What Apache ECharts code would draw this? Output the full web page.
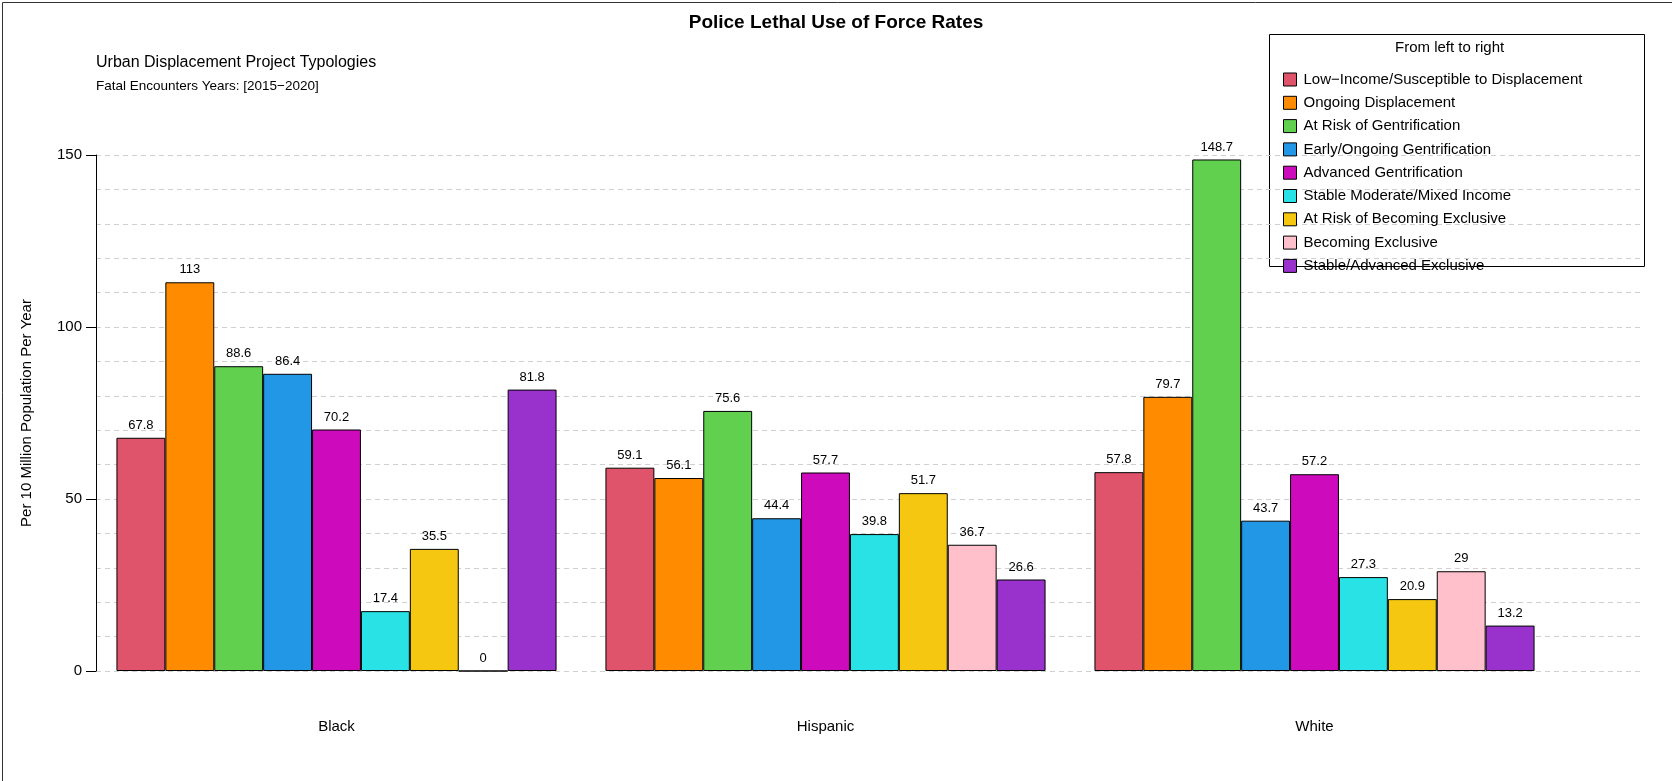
<!DOCTYPE html>
<html><head><meta charset="utf-8">
<script src="https://cdn.jsdelivr.net/npm/echarts@6/dist/echarts.min.js"></script>
<style>html,body{margin:0;padding:0;background:#fff}#c{width:1672px;height:781px}</style>
</head><body><div id="c"></div>
<script>
// groups on the x axis
var groups = ['Black', 'Hispanic', 'White'];
var typologies = ['Low\u2212Income/Susceptible to Displacement', 'Ongoing Displacement', 'At Risk of Gentrification',
  'Early/Ongoing Gentrification', 'Advanced Gentrification', 'Stable Moderate/Mixed Income',
  'At Risk of Becoming Exclusive', 'Becoming Exclusive', 'Stable/Advanced Exclusive'];
var colors = ['#DF536B', '#FF8C00', '#61D04F', '#2297E6', '#CD0BBC', '#28E2E5', '#F5C710', '#FFC0CB', '#9932CC'];
// rate per typology, one array per group
var blackRates = [67.8, 113, 88.6, 86.4, 70.2, 17.4, 35.5, 0, 81.8];
var hispanicRates = [59.1, 56.1, 75.6, 44.4, 57.7, 39.8, 51.7, 36.7, 26.6];
var whiteRates = [57.8, 79.7, 148.7, 43.7, 57.2, 27.3, 20.9, 29, 13.2];
var yTicks = [0, 50, 100, 150];

var chart = echarts.init(document.getElementById('c'));
var series = typologies.map(function (t, i) {
  return {
    name: t, type: 'bar', xAxisIndex: 0, yAxisIndex: 0,
    data: [blackRates[i], hispanicRates[i], whiteRates[i]],
    barGap: '0%', barCategoryGap: '10%',
    itemStyle: { color: colors[i], borderColor: '#000', borderWidth: 1 },
    label: { show: true, position: 'top', distance: 6, color: '#000', fontSize: 13, fontFamily: 'Liberation Sans' },
    animation: false
  };
});
var ff = 'Liberation Sans';
chart.setOption({
  animation: false,
  color: colors,
  grid: [
    { left: 92, right: 113, top: 155, bottom: 110 },
    { left: 96, right: 30, top: 155, bottom: 110 }
  ],
  xAxis: [
    { type: 'category', gridIndex: 0, data: groups, axisLine: { show: false }, axisTick: { show: false },
      axisLabel: { color: '#000', fontSize: 15, fontFamily: ff, margin: 48 } },
    { type: 'value', gridIndex: 1, show: false, min: 0, max: 1 },
    { type: 'value', gridIndex: 1, show: false, min: 0, max: 1 }
  ],
  yAxis: [
    { type: 'value', gridIndex: 0, min: 0, max: 150, show: false },
    { type: 'value', gridIndex: 1, min: 0, max: 150, interval: 10,
      axisLine: { show: false }, axisTick: { show: false }, axisLabel: { show: false },
      splitLine: { lineStyle: { color: '#d0d0d0', type: [5, 4], width: 1 } } },
    { type: 'value', gridIndex: 1, min: 0, max: 150, interval: 50, position: 'left',
      name: 'Per 10 Million Population Per Year', nameLocation: 'middle', nameGap: 62,
      nameTextStyle: { color: '#000', fontSize: 15, fontFamily: ff },
      axisLine: { show: true, lineStyle: { color: '#000' } },
      axisTick: { show: true, length: 10, lineStyle: { color: '#000' } },
      axisLabel: { color: '#000', fontSize: 15, fontFamily: ff, margin: 14,
        formatter: function (v) { return yTicks.indexOf(v) >= 0 ? v : ''; } },
      splitLine: { show: false } },
    { type: 'value', gridIndex: 1, min: 0, max: 150, interval: 20, show: false,
      splitLine: { show: true, lineStyle: { color: '#a8a8a8', type: [5, 4], width: 1 } } }
  ],
  legend: {
    orient: 'vertical', left: 1278, top: 67, itemWidth: 13, itemHeight: 13, itemGap: 8.3,
    icon: 'rect', data: typologies,
    itemStyle: { borderColor: '#000', borderWidth: 1 },
    textStyle: { color: '#000', fontSize: 15, fontFamily: ff, padding: [0, 0, 0, 2] }
  },
  graphic: [
    { type: 'rect', left: 0, top: 0, shape: { width: 1671, height: 780 }, style: { fill: 'none', stroke: '#333', lineWidth: 1 } },
    { type: 'rect', left: 1267, top: 32, shape: { width: 375, height: 232 }, style: { fill: 'none', stroke: '#000', lineWidth: 1 } },
    { type: 'text', left: 1395, top: 40, style: { text: 'From left to right', fill: '#000', font: '15px Liberation Sans' } },
    { type: 'text', left: 'center', top: 13, style: { text: 'Police Lethal Use of Force Rates', fill: '#000', font: 'bold 19px Liberation Sans' } },
    { type: 'text', left: 96, top: 55, style: { text: 'Urban Displacement Project Typologies', fill: '#000', font: '16px Liberation Sans' } },
    { type: 'text', left: 96, top: 79, style: { text: 'Fatal Encounters Years: [2015\u22122020]', fill: '#000', font: '13.5px Liberation Sans' } }
  ],
  series: series.concat([
    { type: 'line', xAxisIndex: 1, yAxisIndex: 1, data: [] },
    { type: 'line', xAxisIndex: 1, yAxisIndex: 2, data: [] },
    { type: 'line', xAxisIndex: 2, yAxisIndex: 3, data: [] }
  ])
});
</script></body></html>
